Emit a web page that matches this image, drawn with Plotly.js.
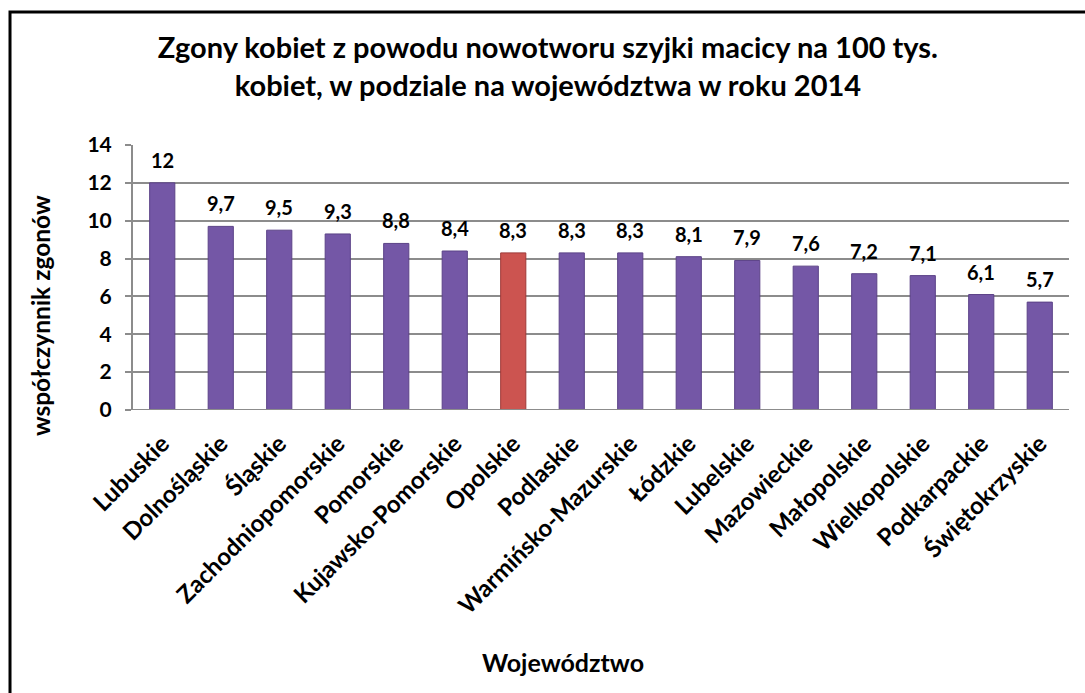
<!DOCTYPE html>
<html>
<head>
<meta charset="utf-8">
<script src="https://cdn.plot.ly/plotly-3.0.1.min.js"></script>
<style>html,body{margin:0;padding:0;background:#fff;}#chart{width:1085px;height:693px;}</style>
</head>
<body>
<div id="chart"></div>
<script>
const categories = ["Lubuskie","Dolnośląskie","Śląskie","Zachodniopomorskie","Pomorskie","Kujawsko-Pomorskie","Opolskie","Podlaskie","Warmińsko-Mazurskie","Łódzkie","Lubelskie","Mazowieckie","Małopolskie","Wielkopolskie","Podkarpackie","Świętokrzyskie"];
const values = [12, 9.7, 9.5, 9.3, 8.8, 8.4, 8.3, 8.3, 8.3, 8.1, 7.9, 7.6, 7.2, 7.1, 6.1, 5.7];
const highlight = "Opolskie";
const yTicks = [0, 2, 4, 6, 8, 10, 12, 14];
const xTitle = "Województwo";
const yTitle = "współczynnik zgonów";

const FONT = "Lato, 'Open Sans', sans-serif";
const purple = "#7457a6", purpleLine = "#5b4287";
const red = "#cc5450", redLine = "#9e3a38";

const colors = categories.map(c => c === highlight ? red : purple);
const lineColors = categories.map(c => c === highlight ? redLine : purpleLine);

const trace = {
  type: "bar",
  x: categories,
  y: values,
  marker: {color: colors, line: {color: lineColors, width: 1}},
  hoverinfo: "x+y"
};

const annotations = categories.map((c, i) => ({
  x: c, y: values[i], xref: "x", yref: "y",
  text: String(values[i]).replace(".", ","),
  showarrow: false, yanchor: "bottom", yshift: 9,
  font: {family: FONT, size: 20, color: "#000", weight: 700}
}));
// axis titles (placed off-centre as in the original)
annotations.push({
  text: xTitle, xref: "paper", yref: "paper", x: 0.459, y: -0.951,
  xanchor: "center", yanchor: "middle", showarrow: false,
  font: {family: FONT, size: 25, color: "#000", weight: 700}
});
annotations.push({
  text: yTitle, xref: "paper", yref: "paper", x: -0.0994, y: 0.358,
  xanchor: "center", yanchor: "middle", showarrow: false, textangle: -90,
  font: {family: FONT, size: 24.5, color: "#000", weight: 700}
});

const layout = {
  width: 1085, height: 693,
  margin: {l: 133, r: 16, t: 145, b: 283, pad: 0},
  paper_bgcolor: "#fff", plot_bgcolor: "#fff",
  separators: ", ",
  showlegend: false,
  bargap: 0.57,
  title: {
    text: "Zgony kobiet z powodu nowotworu szyjki macicy na 100 tys.<br>kobiet, w podziale na województwa w roku 2014",
    font: {family: FONT, size: 29, color: "#000", weight: 700},
    x: 0.505, xanchor: "center", y: 0.916, yanchor: "middle"
  },
  xaxis: {
    type: "category",
    tickangle: -45,
    tickfont: {family: FONT, size: 24, color: "#000", weight: 700},
    showline: false, ticks: "",
    ticklabelstandoff: 14,
    automargin: false
  },
  yaxis: {
    range: [0, 14],
    tickvals: yTicks,
    ticktext: yTicks.map(String),
    tickfont: {family: FONT, size: 21, color: "#000", weight: 700},
    showgrid: true, gridcolor: "#8c8c8c", gridwidth: 2,
    showline: true, linecolor: "#8c8c8c", linewidth: 2,
    ticks: "outside", ticklen: 6, tickcolor: "#8c8c8c", tickwidth: 2,
    ticklabelstandoff: 9,
    zeroline: false,
    automargin: false
  },
  shapes: [
    {type: "line", xref: "paper", yref: "y", x0: 0, x1: 1, y0: 0, y1: 0, line: {color: "#8c8c8c", width: 2}},
    {type: "rect", xref: "paper", yref: "paper", x0: -0.1314, x1: 1.1, y0: -1.2, y1: 1.502, line: {color: "#000", width: 3}, fillcolor: "rgba(0,0,0,0)"}
  ],
  annotations: annotations
};

Plotly.newPlot("chart", [trace], layout, {displayModeBar: false, staticPlot: true});
</script>
</body>
</html>
